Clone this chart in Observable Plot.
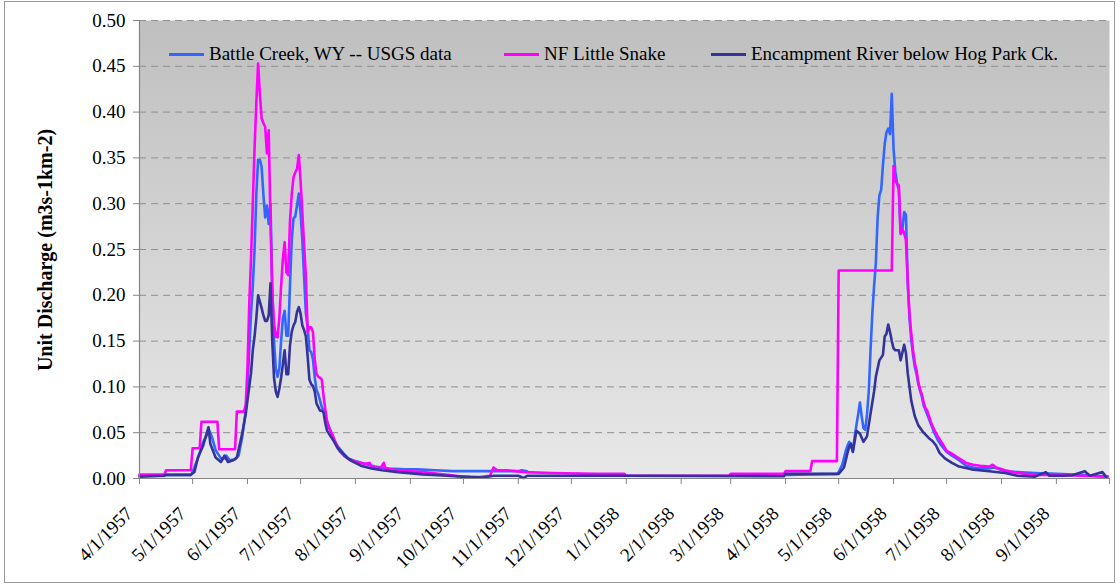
<!DOCTYPE html>
<html><head><meta charset="utf-8">
<script src="https://cdn.jsdelivr.net/npm/d3@7"></script>
<script src="https://cdn.jsdelivr.net/npm/@observablehq/plot@0.6"></script>
<style>
body{margin:0;background:#fff;}
#wrap{position:relative;width:1120px;height:586px;font-family:"Liberation Serif","Times New Roman",serif;color:#000;}
#border{position:absolute;left:4px;top:1px;width:1111px;height:582px;border:1px solid #9a9a9a;pointer-events:none;box-sizing:border-box;}
.leg{position:absolute;top:42px;height:24px;display:flex;align-items:center;font-family:"Liberation Serif","Times New Roman",serif;font-size:19px;white-space:nowrap;}
.sw{display:inline-block;height:3px;margin-right:5px;}
#ylab{position:absolute;left:45px;top:250px;transform:translate(-50%,-50%) rotate(-90deg);font-family:"Liberation Serif","Times New Roman",serif;font-weight:bold;font-size:20px;white-space:nowrap;}
</style></head>
<body>
<svg width="0" height="0" style="position:absolute"><defs>
<linearGradient id="bg" x1="0" y1="0" x2="0" y2="1">
<stop offset="0" stop-color="#bfbfbf"/><stop offset="1" stop-color="#e8e8e8"/>
</linearGradient></defs></svg>
<div id="wrap">
<div id="chart"></div>
<div id="ylab">Unit Discharge (m3s-1km-2)</div>
<div id="legend"></div>
<div id="border"></div>
</div>
<script>
const seriesNames = ["Battle Creek, WY -- USGS data", "NF Little Snake", "Encampment River below Hog Park Ck."];
const seriesColors = ["#3366ff", "#ff00ff", "#333399"];
const xTickLabels = ["4/1/1957","5/1/1957","6/1/1957","7/1/1957","8/1/1957","9/1/1957","10/1/1957","11/1/1957","12/1/1957","1/1/1958","2/1/1958","3/1/1958","4/1/1958","5/1/1958","6/1/1958","7/1/1958","8/1/1958","9/1/1958"];
const xEndLabel = "10/1/1958";
const yTickValues = [0,0.05,0.10,0.15,0.20,0.25,0.30,0.35,0.40,0.45,0.50];

const battleCreek = [
["1957-04-01",0.004],["1957-04-30",0.004],["1957-05-01",0.007],["1957-05-04",0.022],["1957-05-07",0.040],["1957-05-09",0.047],["1957-05-10",0.054],["1957-05-12",0.045],["1957-05-14",0.031],["1957-05-17",0.022],["1957-05-19",0.022],["1957-05-20",0.025],["1957-05-22",0.020],["1957-05-25",0.021],["1957-05-27",0.025],["1957-05-29",0.045],["1957-05-31",0.074],
["1957-06-01",0.100],["1957-06-02",0.140],["1957-06-03",0.180],["1957-06-04",0.210],["1957-06-05",0.250],["1957-06-06",0.310],["1957-06-07",0.348],["1957-06-08",0.348],["1957-06-09",0.340],["1957-06-10",0.310],["1957-06-11",0.285],["1957-06-12",0.298],["1957-06-13",0.278],["1957-06-14",0.300],["1957-06-15",0.210],["1957-06-16",0.150],["1957-06-17",0.120],["1957-06-18",0.111],["1957-06-19",0.120],["1957-06-20",0.150],["1957-06-21",0.175],["1957-06-22",0.183],["1957-06-23",0.156],["1957-06-24",0.156],["1957-06-25",0.210],["1957-06-26",0.260],["1957-06-27",0.284],["1957-06-28",0.286],["1957-06-29",0.298],["1957-06-30",0.311],
["1957-07-01",0.290],["1957-07-02",0.260],["1957-07-03",0.220],["1957-07-04",0.180],["1957-07-05",0.165],["1957-07-06",0.140],["1957-07-07",0.138],["1957-07-08",0.130],["1957-07-09",0.110],["1957-07-10",0.097],["1957-07-11",0.092],["1957-07-12",0.085],["1957-07-13",0.078],["1957-07-14",0.074],["1957-07-16",0.062],["1957-07-18",0.052],["1957-07-20",0.042],["1957-07-22",0.035],["1957-07-25",0.028],["1957-07-28",0.022],
["1957-08-01",0.019],["1957-08-06",0.016],["1957-08-12",0.013],["1957-08-20",0.011],["1957-08-29",0.010],["1957-09-05",0.010],["1957-09-15",0.009],["1957-09-25",0.008],["1957-10-05",0.008],["1957-10-20",0.008],["1957-11-01",0.008],["1957-11-03",0.009],["1957-11-06",0.008],
["1957-11-07",NaN],
["1958-04-01",0.004],["1958-04-30",0.005],["1958-05-01",0.007],["1958-05-03",0.015],["1958-05-05",0.030],["1958-05-06",0.036],["1958-05-07",0.040],["1958-05-08",0.035],["1958-05-09",0.030],["1958-05-10",0.045],["1958-05-11",0.058],["1958-05-12",0.070],["1958-05-13",0.083],["1958-05-14",0.068],["1958-05-15",0.055],["1958-05-16",0.053],["1958-05-17",0.070],["1958-05-18",0.095],["1958-05-19",0.140],["1958-05-20",0.180],["1958-05-21",0.210],["1958-05-22",0.235],["1958-05-23",0.285],["1958-05-24",0.309],["1958-05-25",0.315],["1958-05-26",0.342],["1958-05-27",0.365],["1958-05-28",0.378],["1958-05-29",0.382],["1958-05-30",0.376],["1958-05-31",0.420],
["1958-06-01",0.360],["1958-06-02",0.335],["1958-06-03",0.322],["1958-06-04",0.315],["1958-06-05",0.268],["1958-06-06",0.272],["1958-06-07",0.291],["1958-06-08",0.288],["1958-06-09",0.215],["1958-06-10",0.175],["1958-06-11",0.152],["1958-06-12",0.135],["1958-06-13",0.122],["1958-06-14",0.114],["1958-06-15",0.103],["1958-06-16",0.096],["1958-06-17",0.089],["1958-06-18",0.080],["1958-06-20",0.070],["1958-06-22",0.060],["1958-06-24",0.050],["1958-06-26",0.042],["1958-06-28",0.036],
["1958-07-01",0.029],["1958-07-04",0.025],["1958-07-08",0.020],["1958-07-12",0.014],["1958-07-16",0.012],["1958-07-20",0.011],["1958-07-25",0.011],["1958-07-28",0.012],["1958-08-03",0.008],["1958-08-10",0.007],["1958-08-20",0.006],["1958-09-01",0.005],["1958-09-15",0.004],["1958-09-30",0.002]
];

const nfLittleSnake = [
["1957-04-01",0.004],["1957-04-15",0.004],["1957-04-16",0.009],["1957-04-30",0.009],["1957-05-01",0.033],["1957-05-05",0.033],["1957-05-06",0.062],["1957-05-15",0.062],["1957-05-16",0.032],["1957-05-25",0.032],["1957-05-26",0.073],["1957-05-30",0.073],["1957-05-31",0.080],
["1957-06-01",0.120],["1957-06-02",0.190],["1957-06-03",0.240],["1957-06-04",0.300],["1957-06-05",0.360],["1957-06-06",0.410],["1957-06-07",0.453],["1957-06-08",0.420],["1957-06-09",0.393],["1957-06-10",0.388],["1957-06-11",0.384],["1957-06-12",0.355],["1957-06-13",0.380],["1957-06-14",0.280],["1957-06-15",0.200],["1957-06-16",0.170],["1957-06-17",0.155],["1957-06-18",0.154],["1957-06-19",0.175],["1957-06-20",0.210],["1957-06-21",0.240],["1957-06-22",0.258],["1957-06-23",0.225],["1957-06-24",0.222],["1957-06-25",0.280],["1957-06-26",0.310],["1957-06-27",0.329],["1957-06-28",0.334],["1957-06-29",0.338],["1957-06-30",0.353],
["1957-07-01",0.325],["1957-07-02",0.290],["1957-07-03",0.255],["1957-07-04",0.220],["1957-07-05",0.160],["1957-07-06",0.165],["1957-07-07",0.165],["1957-07-08",0.160],["1957-07-09",0.130],["1957-07-10",0.114],["1957-07-11",0.111],["1957-07-12",0.110],["1957-07-13",0.108],["1957-07-14",0.090],["1957-07-15",0.075],["1957-07-16",0.062],["1957-07-17",0.055],["1957-07-19",0.048],["1957-07-21",0.038],["1957-07-23",0.030],["1957-07-26",0.024],["1957-07-29",0.020],
["1957-08-02",0.018],["1957-08-06",0.016],["1957-08-09",0.017],["1957-08-10",0.013],["1957-08-15",0.011],["1957-08-17",0.017],["1957-08-18",0.011],["1957-08-25",0.009],["1957-09-08",0.007],["1957-09-22",0.004],["1957-10-01",0.002],["1957-10-10",0.0015],["1957-10-16",0.003],["1957-10-18",0.012],["1957-10-20",0.009],["1957-10-25",0.009],["1957-11-05",0.007],["1957-11-20",0.006],["1957-12-15",0.005],["1957-12-31",0.005],
["1958-01-01",0.003],["1958-02-28",0.003],["1958-03-01",0.005],["1958-03-31",0.005],["1958-04-01",0.008],["1958-04-15",0.008],["1958-04-16",0.019],["1958-04-30",0.019],["1958-05-01",0.227],["1958-05-31",0.227],
["1958-06-01",0.341],["1958-06-02",0.325],["1958-06-03",0.322],["1958-06-04",0.320],["1958-06-05",0.267],["1958-06-06",0.272],["1958-06-07",0.268],["1958-06-08",0.260],["1958-06-09",0.215],["1958-06-10",0.180],["1958-06-11",0.158],["1958-06-12",0.140],["1958-06-13",0.126],["1958-06-14",0.118],["1958-06-15",0.105],["1958-06-16",0.097],["1958-06-17",0.092],["1958-06-18",0.083],["1958-06-19",0.077],["1958-06-20",0.074],["1958-06-22",0.062],["1958-06-24",0.053],["1958-06-26",0.046],["1958-06-28",0.040],
["1958-07-01",0.030],["1958-07-04",0.027],["1958-07-08",0.022],["1958-07-12",0.017],["1958-07-16",0.015],["1958-07-20",0.014],["1958-07-25",0.013],["1958-07-27",0.015],["1958-07-29",0.012],["1958-08-03",0.009],["1958-08-10",0.006],["1958-08-20",0.004],["1958-09-01",0.004],["1958-09-15",0.003],["1958-09-30",0.002]
];

const encampment = [
["1957-04-01",0.002],["1957-04-15",0.003],["1957-04-16",0.004],["1957-04-30",0.004],["1957-05-02",0.007],["1957-05-04",0.023],["1957-05-07",0.036],["1957-05-08",0.043],["1957-05-10",0.056],["1957-05-11",0.038],["1957-05-14",0.023],["1957-05-17",0.018],["1957-05-19",0.025],["1957-05-21",0.018],["1957-05-24",0.020],["1957-05-26",0.023],["1957-05-29",0.049],["1957-05-31",0.070],
["1957-06-01",0.085],["1957-06-02",0.100],["1957-06-03",0.115],["1957-06-04",0.140],["1957-06-05",0.155],["1957-06-06",0.175],["1957-06-07",0.200],["1957-06-08",0.193],["1957-06-09",0.186],["1957-06-10",0.178],["1957-06-11",0.172],["1957-06-12",0.172],["1957-06-13",0.178],["1957-06-14",0.213],["1957-06-15",0.150],["1957-06-16",0.110],["1957-06-17",0.095],["1957-06-18",0.089],["1957-06-19",0.098],["1957-06-20",0.110],["1957-06-21",0.125],["1957-06-22",0.140],["1957-06-23",0.114],["1957-06-24",0.114],["1957-06-25",0.145],["1957-06-26",0.160],["1957-06-27",0.167],["1957-06-28",0.171],["1957-06-29",0.182],["1957-06-30",0.187],
["1957-07-01",0.180],["1957-07-02",0.167],["1957-07-03",0.162],["1957-07-04",0.155],["1957-07-05",0.133],["1957-07-06",0.108],["1957-07-07",0.103],["1957-07-08",0.101],["1957-07-09",0.095],["1957-07-10",0.082],["1957-07-11",0.078],["1957-07-12",0.074],["1957-07-13",0.074],["1957-07-14",0.072],["1957-07-15",0.060],["1957-07-16",0.052],["1957-07-18",0.046],["1957-07-20",0.040],["1957-07-22",0.033],["1957-07-24",0.029],["1957-07-27",0.023],["1957-07-30",0.019],
["1957-08-04",0.014],["1957-08-10",0.011],["1957-08-16",0.009],["1957-08-25",0.007],["1957-09-08",0.0045],["1957-09-22",0.003],["1957-10-05",0.0015],["1957-10-12",0.001],["1957-10-18",0.003],["1957-11-01",0.003],["1957-11-04",0.0005],["1957-11-06",0.003],["1957-12-01",0.003],
["1958-01-01",0.003],["1958-03-31",0.0025],["1958-04-01",0.005],["1958-04-30",0.005],["1958-05-01",0.005],["1958-05-04",0.012],["1958-05-06",0.028],["1958-05-07",0.035],["1958-05-08",0.038],["1958-05-09",0.029],["1958-05-10",0.040],["1958-05-11",0.052],["1958-05-13",0.049],["1958-05-15",0.040],["1958-05-17",0.046],["1958-05-19",0.071],["1958-05-21",0.095],["1958-05-22",0.111],["1958-05-24",0.129],["1958-05-26",0.135],["1958-05-27",0.155],["1958-05-28",0.158],["1958-05-29",0.168],["1958-05-30",0.160],["1958-05-31",0.150],
["1958-06-01",0.142],["1958-06-02",0.140],["1958-06-04",0.140],["1958-06-05",0.129],["1958-06-07",0.146],["1958-06-08",0.137],["1958-06-09",0.115],["1958-06-10",0.100],["1958-06-11",0.085],["1958-06-13",0.068],["1958-06-15",0.058],["1958-06-18",0.050],["1958-06-21",0.044],["1958-06-23",0.041],["1958-06-25",0.036],["1958-06-27",0.028],["1958-06-30",0.022],
["1958-07-04",0.017],["1958-07-08",0.013],["1958-07-15",0.010],["1958-07-25",0.008],["1958-08-03",0.006],["1958-08-10",0.003],["1958-08-20",0.002],["1958-08-26",0.007],["1958-08-28",0.003],["1958-09-05",0.003],["1958-09-10",0.0035],["1958-09-17",0.008],["1958-09-20",0.003],["1958-09-27",0.007],["1958-09-29",0.002]
];

const parseISO = d3.utcParse("%Y-%m-%d");
const parseLabel = d3.utcParse("%m/%d/%Y");
const toRows = arr => arr.map(([d, v]) => ({date: parseISO(d), value: v}));
const allSeries = [battleCreek, nfLittleSnake, encampment].map(toRows);
const xTicks = xTickLabels.map(parseLabel).concat([parseLabel(xEndLabel)]);
const xDomain = [parseLabel(xTickLabels[0]), parseLabel(xEndLabel)];
const axisGray = "#858585";
const serif = "'Liberation Serif','Times New Roman',serif";

const chart = Plot.plot({
  width: 1120, height: 586,
  marginLeft: 139, marginRight: 11, marginTop: 20, marginBottom: 108,
  style: {fontFamily: serif, fontSize: "19px", color: "#000", background: "transparent", overflow: "visible"},
  x: {type: "utc", domain: xDomain},
  y: {domain: [0, 0.5]},
  marks: [
    Plot.frame({fill: "url(#bg)", stroke: "none"}),
    Plot.gridY(yTickValues.slice(1), {stroke: "#8f8f8f", strokeOpacity: 1, strokeDasharray: "7,5", strokeWidth: 1}),
    ...allSeries.map((rows, i) => Plot.line(rows, {x: "date", y: "value", stroke: seriesColors[i], strokeWidth: 2.6, strokeLinejoin: "round"})),
    Plot.ruleX([xDomain[0]], {stroke: axisGray, strokeWidth: 1.2}),
    Plot.ruleY([0], {stroke: axisGray, strokeWidth: 1.2}),
    Plot.axisY(yTickValues, {tickFormat: d => d.toFixed(2), tickSize: 6, tickPadding: 8, stroke: axisGray, fill: "#000", label: null, fontSize: 19, fontFamily: serif}),
    Plot.axisX(xTicks, {tickFormat: () => "", tickSize: 6, stroke: axisGray, label: null}),
    Plot.axisX(xTicks, {tickFormat: (d, i) => i < xTickLabels.length ? xTickLabels[i] : "", tickRotate: -45, tickSize: 0, tickPadding: 10, fill: "#000", label: null, fontSize: 19, fontFamily: serif, dx: -10, dy: 22})
  ]
});
document.getElementById("chart").appendChild(chart);

const legendLefts = [169, 504, 711];
const swatchWidth = 35;
const legend = document.getElementById("legend");
seriesNames.forEach((name, i) => {
  const item = document.createElement("div");
  item.className = "leg";
  item.style.left = legendLefts[i] + "px";
  const sw = document.createElement("span");
  sw.className = "sw";
  sw.style.width = swatchWidth + "px";
  sw.style.background = seriesColors[i];
  item.appendChild(sw);
  item.appendChild(document.createTextNode(name));
  legend.appendChild(item);
});
</script>
</body></html>
